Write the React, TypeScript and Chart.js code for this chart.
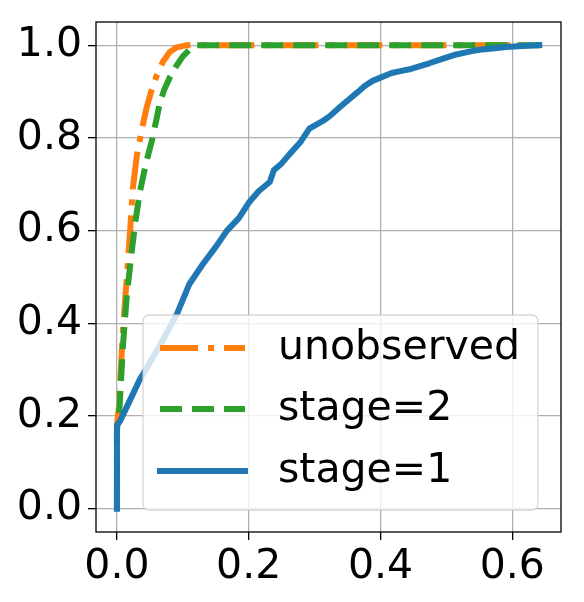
import React, { useEffect, useRef } from 'react';
import { Chart, registerables } from 'chart.js';

Chart.register(...registerables);

const xTicks = [0, 0.2, 0.4, 0.6];
const yTicks = [0, 0.2, 0.4, 0.6, 0.8, 1.0];

const legendLabels = ['unobserved', 'stage=2', 'stage=1'];

const unobservedX = [0, 0, 0.003, 0.009, 0.015, 0.02, 0.024, 0.03, 0.038, 0.045, 0.053, 0.061, 0.07, 0.08, 0.09, 0.106, 0.643];
const unobservedY = [0, 0.18, 0.22, 0.385, 0.5, 0.6, 0.69, 0.76, 0.82, 0.865, 0.905, 0.937, 0.965, 0.985, 0.995, 1.0, 1.0];

const stage2X = [0, 0, 0.004, 0.009, 0.015, 0.022, 0.028, 0.035, 0.044, 0.053, 0.06, 0.065, 0.072, 0.08, 0.09, 0.1, 0.11, 0.121, 0.643];
const stage2Y = [0, 0.17, 0.22, 0.35, 0.46, 0.55, 0.62, 0.685, 0.745, 0.794, 0.84, 0.875, 0.905, 0.93, 0.955, 0.976, 0.99, 1.0, 1.0];

const stage1X = [0, 0, 0.005, 0.02, 0.035, 0.05, 0.07, 0.091, 0.11, 0.13, 0.15, 0.167, 0.185, 0.2, 0.215, 0.232, 0.238, 0.25, 0.262, 0.278, 0.292, 0.312, 0.323, 0.338, 0.352, 0.364, 0.376, 0.388, 0.4, 0.417, 0.43, 0.444, 0.46, 0.474, 0.495, 0.515, 0.535, 0.55, 0.57, 0.591, 0.615, 0.641];
const stage1Y = [0, 0.18, 0.19, 0.235, 0.28, 0.315, 0.365, 0.42, 0.485, 0.527, 0.565, 0.6, 0.627, 0.66, 0.685, 0.705, 0.73, 0.745, 0.765, 0.79, 0.82, 0.836, 0.847, 0.866, 0.883, 0.897, 0.912, 0.923, 0.93, 0.94, 0.944, 0.948, 0.955, 0.961, 0.971, 0.98, 0.986, 0.99, 0.993, 0.996, 0.998, 1.0];

const COLORS = {
  unobserved: '#ff7f0e',
  stage2: '#2ca02c',
  stage1: '#1f77b4',
};

const FONT = '"DejaVu Sans", sans-serif';
const FONT_SIZE = 41;
const LW = 6;
const DASHDOT = [38, 10, 6, 10];
const DASHED = [22, 10];

const toPts = (xs: number[], ys: number[]) => xs.map((x, i) => ({ x, y: ys[i] }));

const legendPlugin = {
  id: 'mplLegend',
  afterDatasetsDraw(chart: any) {
    const { ctx, chartArea: ca } = chart;
    ctx.save();
    // axes frame
    ctx.strokeStyle = '#000';
    ctx.lineWidth = 1.3;
    ctx.strokeRect(ca.left, ca.top, ca.right - ca.left, ca.bottom - ca.top);

    const w = 395;
    const h = 195;
    const bx = ca.right - 23 - w;
    const by = ca.bottom - 22 - h;
    const r = 7;
    ctx.beginPath();
    ctx.moveTo(bx + r, by);
    ctx.lineTo(bx + w - r, by);
    ctx.quadraticCurveTo(bx + w, by, bx + w, by + r);
    ctx.lineTo(bx + w, by + h - r);
    ctx.quadraticCurveTo(bx + w, by + h, bx + w - r, by + h);
    ctx.lineTo(bx + r, by + h);
    ctx.quadraticCurveTo(bx, by + h, bx, by + h - r);
    ctx.lineTo(bx, by + r);
    ctx.quadraticCurveTo(bx, by, bx + r, by);
    ctx.closePath();
    ctx.fillStyle = 'rgba(255,255,255,0.8)';
    ctx.fill();
    ctx.strokeStyle = 'rgba(204,204,204,0.8)';
    ctx.lineWidth = 1.3;
    ctx.stroke();

    const rows = [33, 94, 156];
    const colors = [COLORS.unobserved, COLORS.stage2, COLORS.stage1];
    const dashes = [DASHDOT, DASHED, []];
    legendLabels.forEach((label, i) => {
      const y = by + rows[i];
      ctx.beginPath();
      ctx.setLineDash(dashes[i]);
      ctx.lineCap = i === 2 ? 'square' : 'butt';
      ctx.strokeStyle = colors[i];
      ctx.lineWidth = LW;
      ctx.moveTo(bx + 17, y);
      ctx.lineTo(bx + 102, y);
      ctx.stroke();
      ctx.setLineDash([]);
      ctx.fillStyle = '#000';
      ctx.font = `${FONT_SIZE}px ${FONT}`;
      ctx.textBaseline = 'middle';
      ctx.textAlign = 'left';
      ctx.fillText(label, bx + 135, y);
    });
    ctx.restore();
  },
};

export default function App() {
  const ref = useRef<HTMLCanvasElement | null>(null);
  useEffect(() => {
    if (!ref.current) return;
    const chart = new Chart(ref.current, {
      type: 'line',
      data: {
        datasets: [
          {
            label: legendLabels[2],
            data: toPts(stage1X, stage1Y),
            borderColor: COLORS.stage1,
            borderWidth: LW,
            pointRadius: 0,
            borderCapStyle: 'square',
            borderJoinStyle: 'round',
            tension: 0,
          },
          {
            label: legendLabels[1],
            data: toPts(stage2X, stage2Y),
            borderColor: COLORS.stage2,
            borderWidth: LW,
            borderDash: DASHED,
            pointRadius: 0,
            tension: 0,
          },
          {
            label: legendLabels[0],
            data: toPts(unobservedX, unobservedY),
            borderColor: COLORS.unobserved,
            borderWidth: LW,
            borderDash: DASHDOT,
            pointRadius: 0,
            tension: 0,
          },
        ],
      },
      options: {
        animation: false,
        responsive: true,
        maintainAspectRatio: false,
        layout: { padding: { top: 22, right: 23, left: 0, bottom: 0 } },
        plugins: { legend: { display: false }, tooltip: { enabled: false } },
        scales: {
          x: {
            type: 'linear',
            min: -0.0318,
            max: 0.674,
            afterBuildTicks: (s: any) => { s.ticks = xTicks.map((v) => ({ value: v })); },
            afterFit: (s: any) => { s.height = 70; s.paddingLeft = 0; s.paddingRight = 0; },
            grid: { color: '#b0b0b0', lineWidth: 1.3, tickColor: '#000', tickLength: 8, tickWidth: 1.3 },
            border: { display: false },
            ticks: {
              color: '#000',
              font: { family: FONT, size: FONT_SIZE },
              padding: 3,
              maxRotation: 0,
              callback: (v: any) => Number(v).toFixed(1),
            },
          },
          y: {
            type: 'linear',
            min: -0.05,
            max: 1.05,
            afterBuildTicks: (s: any) => { s.ticks = yTicks.map((v) => ({ value: v })); },
            afterFit: (s: any) => { s.width = 96; s.paddingTop = 0; s.paddingBottom = 0; },
            grid: { color: '#b0b0b0', lineWidth: 1.3, tickColor: '#000', tickLength: 8, tickWidth: 1.3 },
            border: { display: false },
            ticks: {
              color: '#000',
              font: { family: FONT, size: FONT_SIZE },
              padding: 6,
              callback: (v: any) => Number(v).toFixed(1),
            },
          },
        },
      },
      plugins: [legendPlugin],
    });
    return () => chart.destroy();
  }, []);
  return (
    <div style={{ position: 'fixed', left: 0, top: 0, width: 584, height: 602, background: '#fff' }}>
      <canvas ref={ref} />
    </div>
  );
}
